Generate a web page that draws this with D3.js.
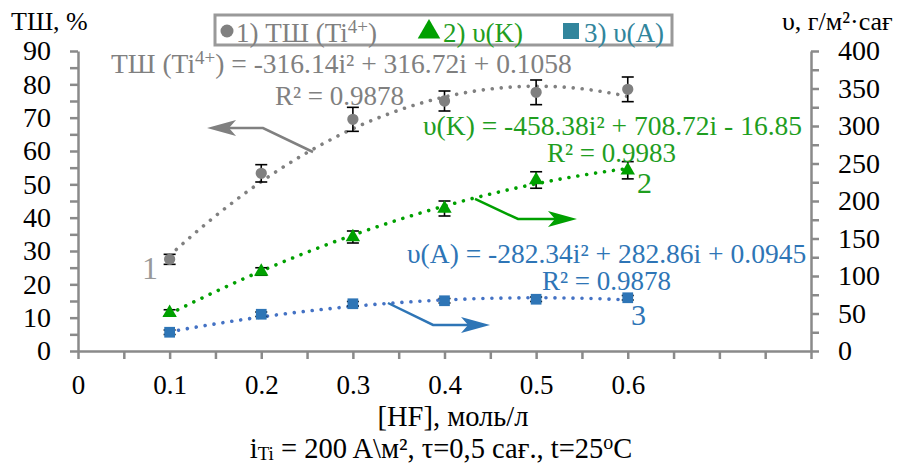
<!DOCTYPE html>
<html>
<head>
<meta charset="utf-8">
<script src="https://cdn.jsdelivr.net/npm/d3@7"></script>
<style>
  body { margin: 0; background: #fff; }
  svg { display: block; }
  text { font-family: "Liberation Serif", "Times New Roman", serif; }
</style>
</head>
<body>
<svg id="chart" width="911" height="465"></svg>
<script>
// data
const hf = [0.1, 0.2, 0.3, 0.4, 0.5, 0.6]
const tsh = [27.5, 53.3, 69.5, 75, 77.6, 78.5]
const tshErr = [1.5, 2.6, 3.6, 3, 3.7, 3.7]
const vK = [51, 106, 152, 190, 228, 241]
const vKErr = [4, 5, 8, 10, 11, 11.5]
const vA = [25, 49, 63, 67, 69, 71]
const vAErr = [3, 3, 3, 3, 3, 3]

// trendline coefficients as printed on the chart (a, b, c for a*i^2 + b*i + c)
const tshFit = [-316.14, 316.72, 0.1058]
const vKFit = [-458.38, 708.72, -16.85]
const vAFit = [-282.34, 282.86, 0.0945]

const xTickValues = d3.range(0, 0.8001, 0.05)
const xLabelValues = [0, 0.1, 0.2, 0.3, 0.4, 0.5, 0.6]
const leftTickValues = d3.range(0, 91, 5)
const rightTickValues = d3.range(0, 401, 25)

const GRAY = "#808080"
const GREEN = "#00a000"
const GREEN_TXT = "#1f9e1f"
const BLUE = "#2e75b6"
const BLUE_LINE = "#4472c4"
const TEAL = "#31859c"
const AXIS = "#8a8a8a"

const svg = d3.select("#chart")

const x = d3.scaleLinear().domain([0, 0.8]).range([78, 811])
const yL = d3.scaleLinear().domain([0, 90]).range([351, 51])
const yR = d3.scaleLinear().domain([0, 400]).range([351, 51])

// axes
const fmtX = d => xLabelValues.some(v => Math.abs(v - d) < 1e-6) ? (d === 0 ? "0" : d.toFixed(1)) : ""

svg.append("g")
    .attr("transform", "translate(0,351)")
    .call(d3.axisBottom(x).tickValues(xTickValues).tickSize(8).tickSizeOuter(0).tickPadding(16).tickFormat(fmtX))
    .call(g => g.selectAll("text").attr("font-size", 27))

svg.append("g")
    .attr("transform", "translate(78,0)")
    .call(d3.axisLeft(yL).tickValues(leftTickValues).tickSize(8).tickSizeOuter(0).tickPadding(19)
      .tickFormat(d => d % 10 === 0 ? d : ""))
    .call(g => g.selectAll("text").attr("font-size", 28))

svg.append("g")
    .attr("transform", "translate(811,0)")
    .call(d3.axisRight(yR).tickValues(rightTickValues).tickSize(8).tickSizeOuter(0).tickPadding(19)
      .tickFormat(d => d % 50 === 0 ? d : ""))
    .call(g => g.selectAll("text").attr("font-size", 28))

svg.selectAll(".domain, .tick line").attr("stroke", AXIS).attr("stroke-width", 2.5)
svg.selectAll(".tick text").attr("fill", "#000")

// axis titles
svg.append("text").attr("x", 11).attr("y", 30).attr("font-size", 26).text("ТШ, %")
svg.append("text").attr("x", 782).attr("y", 30).attr("font-size", 26).text("υ, г/м²·сағ")

svg.append("text").attr("x", 453).attr("y", 426).attr("text-anchor", "middle")
    .attr("font-size", 28.5).text("[HF], моль/л")

const note = svg.append("text").attr("x", 441).attr("y", 458).attr("text-anchor", "middle").attr("font-size", 28.5)
note.append("tspan").text("i")
note.append("tspan").attr("font-size", 19).attr("dy", 2).text("Ti")
note.append("tspan").attr("dy", -2).text(" = 200 A\\м², τ=0,5 сағ., t=25")
note.append("tspan").attr("font-size", 20).attr("dy", -9).text("o")
note.append("tspan").attr("dy", 9).text("C")

// trendlines
const fitPts = coef => d3.range(0.1, 0.6001, 0.005).map(i => [i, coef[0] * i * i + coef[1] * i + coef[2]])
const series = [
  {vals: tsh, err: tshErr, fit: tshFit, y: yL, color: GRAY, line: GRAY, shape: "circle"},
  {vals: vK, err: vKErr, fit: vKFit, y: yR, color: GREEN, line: GREEN, shape: "triangle"},
  {vals: vA, err: vAErr, fit: vAFit, y: yR, color: BLUE, line: BLUE_LINE, shape: "square"}
]

series.forEach(s => {
  svg.append("path")
      .datum(fitPts(s.fit))
      .attr("fill", "none")
      .attr("stroke", s.line)
      .attr("stroke-width", 3.6)
      .attr("stroke-linecap", "round")
      .attr("stroke-dasharray", "0.01 9")
      .attr("d", d3.line().x(d => x(d[0])).y(d => s.y(d[1])))
})

// annotation arrows (data coordinates)
const arrows = [
  {pts: [[0.2565, 59.7], [0.2019, 66.9], [0.1408, 66.9]], y: yL, color: GRAY},
  {pts: [[0.4333, 202.7], [0.4802, 176], [0.5446, 176]], y: yR, color: GREEN},
  {pts: [[0.3383, 64], [0.3875, 34.7], [0.4497, 34.7]], y: yR, color: BLUE}
]

arrows.forEach(a => {
  const p = a.pts.map(d => [x(d[0]), a.y(d[1])])
  const tip = p[p.length - 1], prev = p[p.length - 2]
  const len = Math.hypot(tip[0] - prev[0], tip[1] - prev[1])
  const ux = (tip[0] - prev[0]) / len, uy = (tip[1] - prev[1]) / len
  const notch = [tip[0] - 22 * ux, tip[1] - 22 * uy]
  const linePts = p.slice(0, -1).concat([notch])
  svg.append("path")
      .attr("fill", "none")
      .attr("stroke", a.color)
      .attr("stroke-width", 2.5)
      .attr("d", d3.line()(linePts))
  const head = [
    tip,
    [tip[0] - 29 * ux - 8 * uy, tip[1] - 29 * uy + 8 * ux],
    notch,
    [tip[0] - 29 * ux + 8 * uy, tip[1] - 29 * uy - 8 * ux]
  ]
  svg.append("path").attr("fill", a.color).attr("d", "M" + head.join("L") + "Z")
})

// error bars and markers
series.forEach(s => {
  const g = svg.append("g")
  hf.forEach((h, i) => {
    const cx = x(h)
    const top = s.y(s.vals[i] + s.err[i]), bot = s.y(s.vals[i] - s.err[i])
    g.append("line").attr("x1", cx).attr("x2", cx).attr("y1", top).attr("y2", bot)
    g.append("line").attr("x1", cx - 6).attr("x2", cx + 6).attr("y1", top).attr("y2", top)
    g.append("line").attr("x1", cx - 6).attr("x2", cx + 6).attr("y1", bot).attr("y2", bot)
  })
  g.selectAll("line").attr("stroke", "#000").attr("stroke-width", 1.6)

  const sym = s.shape === "circle" ? d3.symbolCircle : s.shape === "triangle" ? d3.symbolTriangle : d3.symbolSquare
  const size = s.shape === "circle" ? 100 : s.shape === "triangle" ? 90 : 115
  svg.append("g").selectAll("path")
    .data(s.vals)
    .join("path")
      .attr("transform", (d, i) => `translate(${x(hf[i])},${s.y(d)})`)
      .attr("d", d3.symbol(sym, size))
      .attr("fill", s.color)
})

// legend
svg.append("rect").attr("x", 215).attr("y", 15).attr("width", 457).attr("height", 30)
    .attr("fill", "#fff").attr("stroke", "#999").attr("stroke-width", 3)

svg.append("circle").attr("cx", 227).attr("cy", 31).attr("r", 6.5).attr("fill", GRAY)
const l1 = svg.append("text").attr("x", 236).attr("y", 42).attr("font-size", 27).attr("fill", GRAY)
l1.append("tspan").text("1) ТШ (Ti")
l1.append("tspan").attr("font-size", 19).attr("dy", -9).text("4+")
l1.append("tspan").attr("dy", 9).text(")")

svg.append("path").attr("transform", "translate(429,32)").attr("d", d3.symbol(d3.symbolTriangle, 220)).attr("fill", GREEN)
svg.append("text").attr("x", 443).attr("y", 42).attr("font-size", 27).attr("fill", GREEN_TXT).text("2) υ(K)")

svg.append("rect").attr("x", 563).attr("y", 23).attr("width", 16).attr("height", 16).attr("fill", TEAL)
svg.append("text").attr("x", 584).attr("y", 42).attr("font-size", 27).attr("fill", TEAL).text("3) υ(A)")

// equations and labels
const eq1 = svg.append("text").attr("x", 111).attr("y", 73).attr("font-size", 27.5).attr("fill", GRAY)
eq1.append("tspan").text("ТШ (Ti")
eq1.append("tspan").attr("font-size", 19).attr("dy", -9).text("4+")
eq1.append("tspan").attr("dy", 9).text(") = -316.14i² + 316.72i + 0.1058")
svg.append("text").attr("x", 275).attr("y", 105).attr("font-size", 27).attr("fill", GRAY).text("R² = 0.9878")

svg.append("text").attr("x", 423).attr("y", 135).attr("font-size", 27.5).attr("fill", GREEN_TXT)
    .text("υ(K) = -458.38i² + 708.72i - 16.85")
svg.append("text").attr("x", 547).attr("y", 162).attr("font-size", 27).attr("fill", GREEN_TXT).text("R² = 0.9983")

svg.append("text").attr("x", 407).attr("y", 263).attr("font-size", 27.5).attr("fill", BLUE)
    .text("υ(A) = -282.34i² + 282.86i + 0.0945")
svg.append("text").attr("x", 542).attr("y", 290).attr("font-size", 27).attr("fill", BLUE).text("R² = 0.9878")

svg.append("text").attr("x", 142).attr("y", 279).attr("font-size", 32).attr("fill", "#999").text("1")
svg.append("text").attr("x", 637).attr("y", 193).attr("font-size", 30).attr("fill", GREEN_TXT).text("2")
svg.append("text").attr("x", 631).attr("y", 325).attr("font-size", 30).attr("fill", BLUE).text("3")
</script>
</body>
</html>
